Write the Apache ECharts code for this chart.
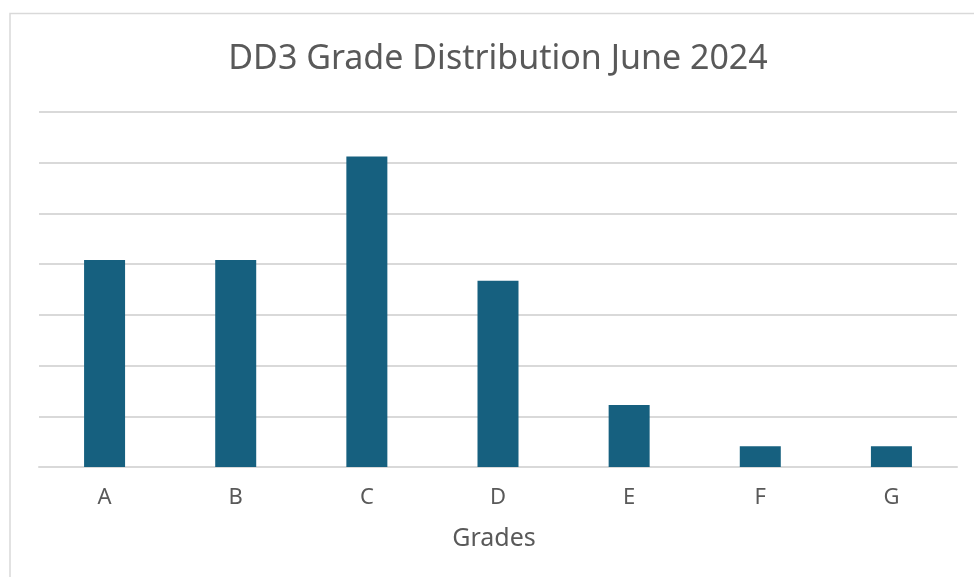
<!DOCTYPE html>
<html>
<head>
<meta charset="utf-8">
<script src="https://cdn.jsdelivr.net/npm/echarts@6/dist/echarts.min.js"></script>
<style>
html,body{margin:0;padding:0;background:#fff;}
#chart{width:974px;height:577px;}
</style>
</head>
<body>
<div id="chart"></div>
<script>
var titleText = 'DD3 Grade Distribution June 2024';
var categories = ['A', 'B', 'C', 'D', 'E', 'F', 'G'];
var percentValues = [20.41, 20.41, 30.61, 18.37, 6.12, 2.04, 2.04];
var axisName = 'Grades';

var FONT = 'Noto Sans, Liberation Sans, sans-serif';
var chart = echarts.init(document.getElementById('chart'), null, {renderer: 'canvas'});
chart.setOption({
  backgroundColor: '#ffffff',
  animation: false,
  title: {
    text: titleText,
    left: 498,
    textAlign: 'center',
    top: 42,
    padding: 0,
    textStyle: {fontFamily: FONT, fontSize: 34, fontWeight: 'normal', color: '#595959'}
  },
  graphic: [{
    type: 'rect',
    shape: {x: 10, y: 13.5, width: 1000, height: 1000},
    style: {fill: 'none', stroke: '#d9d9d9', lineWidth: 1.5},
    silent: true
  }],
  grid: {left: 39, right: 17, top: 112, bottom: 110, containLabel: false},
  xAxis: {
    type: 'category',
    data: categories,
    name: axisName,
    nameLocation: 'middle',
    nameGap: 59,
    nameTextStyle: {fontFamily: FONT, fontSize: 25, color: '#595959', padding: [0, 8, 0, 0]},
    axisLine: {show: true, lineStyle: {color: '#d9d9d9', width: 2}},
    axisTick: {show: false},
    axisLabel: {fontFamily: FONT, fontSize: 22, color: '#595959', margin: 20}
  },
  yAxis: {
    type: 'value',
    min: 0,
    max: 35,
    interval: 5,
    axisLabel: {show: false},
    axisLine: {show: false},
    axisTick: {show: false},
    splitLine: {show: true, lineStyle: {color: '#d9d9d9', width: 2}}
  },
  series: [{
    type: 'bar',
    data: percentValues,
    barWidth: 41,
    itemStyle: {color: '#16607f'}
  }]
});
</script>
</body>
</html>
